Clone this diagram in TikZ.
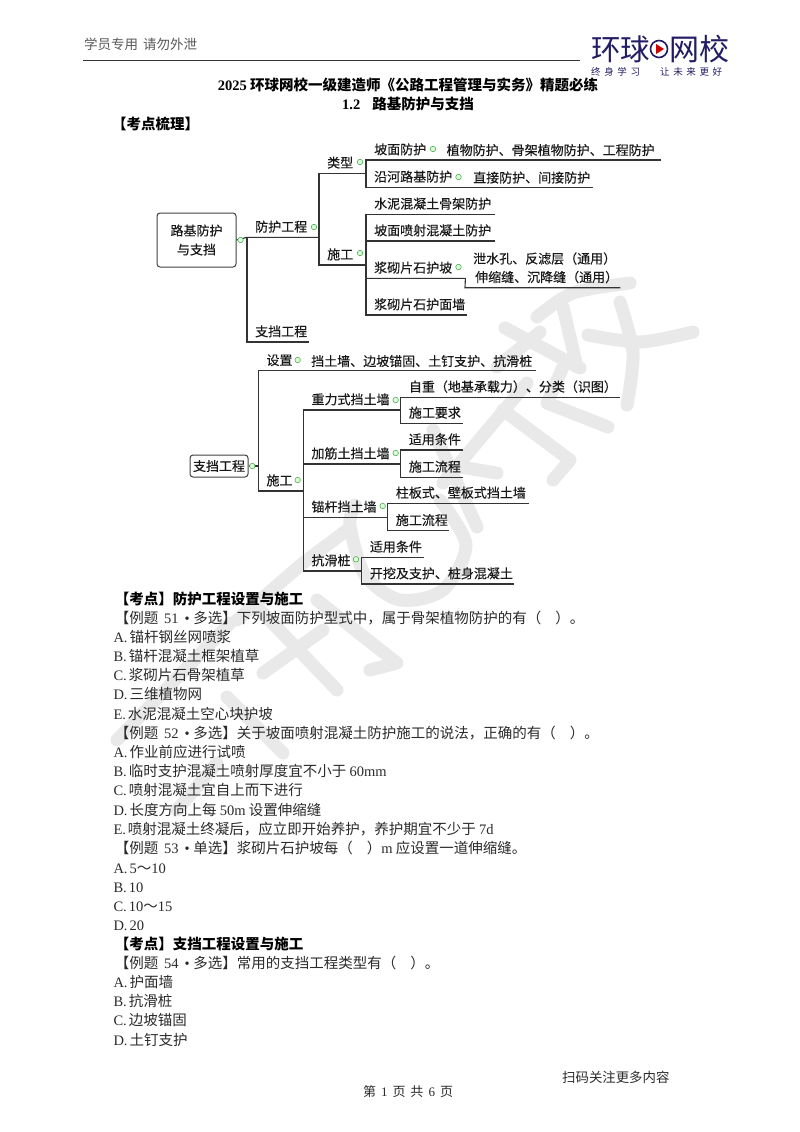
\documentclass[tikz,border=0pt]{standalone}
\usepackage{fontspec}
\usepackage{xcolor}
\usetikzlibrary{positioning,calc}
\setmainfont{Noto Sans CJK SC}
\newfontfamily\latfont{Liberation Serif}
\newfontfamily\mapfont[FakeBold=0.35]{Noto Sans CJK SC}
\newfontfamily\wordfont[LetterSpace=38]{Noto Sans CJK SC}
\newcommand{\lat}[1]{{\latfont #1}}
\definecolor{logoblue}{HTML}{211C63}
\definecolor{inktext}{HTML}{2A2A2A}
\definecolor{wmgrey}{HTML}{E9E9E9}

\begin{document}
\begin{tikzpicture}[
      x=1pt, y=-1pt,
      % Reusable styles
      topic/.style={
        anchor=south west,
        text width=#1,
        inner xsep=0pt,
        inner ysep=2.5pt,
        text height=10pt,
        text depth=3pt,
        align=left,
        text=black!90,
        font=\fontsize{13}{15}\mapfont,
        execute at begin node=\hspace*{8pt}
      },
      detail/.style={anchor=base west, inner sep=0pt, text=black!90, font=\fontsize{13}{15}\mapfont},
      rootbox/.style={draw=black!75, fill=white, line width=1pt, rounded corners=3pt, align=center, inner sep=0pt, text=black!90, font=\fontsize{13}{19}\mapfont},
      fold/.style={circle, draw=green!35!gray, fill=green!15!white, line width=.6pt, minimum size=5.5pt, inner sep=0pt},
      link/.style={draw=black!80, line width=1.1pt},
      bodyline/.style={anchor=base west, inner sep=0pt, text=inktext, font=\fontsize{14.5}{17}\selectfont},
      headline/.style={bodyline, text=black, font=\fontsize{14.5}{17}\selectfont\bfseries},
      wmark/.style={draw=wmgrey, line width=13pt, line cap=round, line join=round}
    ]
    \useasboundingbox (0,0) rectangle (800,1132);

    % Watermark under everything
    \draw[wmark] plot[smooth] coordinates {(630,283) (573,293) (537,317)};
    \draw[wmark] plot[smooth] coordinates {(620,302) (633,353) (627,405)};
    \draw[wmark] plot[smooth] coordinates {(588,335) (640,342) (693,332)};
    \draw[wmark] (563,307) -- (577,367);
    \draw[wmark] (505,328) -- (580,368);
    \draw[wmark] (540,332) -- (497,367);
    \draw[wmark] (563,367) -- (547,403) -- (608,427);
    \draw[wmark] (503,410) -- (570,460) -- (553,480);
    \draw[wmark] (433,430) -- (477,527);
    \draw[wmark] (460,467) -- (497,473);
    \draw[wmark] (527,383) -- (443,483);
    \draw[wmark] plot[smooth] coordinates {(440,500) (466,545) (443,590) (400,600) (365,575) (350,525) (355,505)};
    \draw[wmark] (347,530) -- (303,563) -- (237,620);
    \draw[wmark] (257,607) -- (337,690);
    \draw[wmark] (263,673) -- (323,630);
    \draw[wmark] (317,600) -- (397,663) -- (370,670);
    \draw[wmark] (227,697) -- (283,753);
    \draw[wmark] (117,740) -- (230,623);
    \draw[wmark] (217,763) -- (177,810);

    % Page head
    \node[anchor=base west, inner sep=0pt, text=black!65, font=\fontsize{13.5}{16}\selectfont] (headnote) at (84,50) {学员专用\hspace{5pt}请勿外泄};
    \coordinate (headend) at (580,60);
    \draw[draw=black!80, line width=.9pt] (83,60) coordinate (headstart) -- (headend);

    % Logo
    \node[anchor=base west, inner sep=0pt, text=logoblue, font=\fontsize{29.5}{30}\selectfont] (logoa) at (591,60) {环球};
    \node[circle, draw=logoblue, line width=1.6pt, minimum size=17pt, inner sep=0pt] (logoring) at (659,49) {};
    \fill[red!80!black] (656,44) -- (664,49) -- (656,54) -- cycle;
    \node[anchor=base west, inner sep=0pt, text=logoblue, font=\fontsize{30}{30}\selectfont] (logob) at (669,60) {网校};
    \node[anchor=base west, inner sep=0pt, text=logoblue, font=\fontsize{9.5}{11}\wordfont] (slogana) at (591,76) {终身学习};
    \node[anchor=base west, inner sep=0pt, text=logoblue, font=\fontsize{9.5}{11}\wordfont] (sloganb) at (660,76) {让未来更好};

    % Titles
    \node[anchor=base, inner sep=0pt, font=\fontsize{14.5}{17}\selectfont\bfseries] (maintitle) at (408,90) {\lat{\textbf{2025}} 环球网校一级建造师《公路工程管理与实务》精题必练};
    \node[anchor=base, inner sep=0pt, font=\fontsize{14.5}{17}\selectfont\bfseries] (subtitle) at (408,109) {\lat{\textbf{1.2}}\hspace{12pt}路基防护与支挡};
    \node[headline] (combing) at (112,129) {【考点梳理】};

    % First map
    \node[rootbox, minimum width=79pt, minimum height=54pt] (lujibox) at (196.5,240) {路基防护\\与支挡};
    \foreach \nm/\px/\py/\llen/\txt in {
        fanghu/247/237.3/72/防护工程,
        zhidang/247/342/62/支挡工程,
        leixing/319/173.3/47/类型,
        shigong/319/265/47/施工,
        pomian/366/160/295/坡面防护,
        yanhe/366/187.3/227/沿河路基防护,
        shuini/366/214.3/129/水泥混凝土骨架防护,
        penshe/366/241/129/坡面喷射混凝土防护,
        hupo/366/278.3/99/浆砌片石护坡,
        humian/366/315/101/浆砌片石护面墙
      } {
      \node[topic=\llen pt] (\nm) at (\px,\py) {\txt};
    }
    \node[detail] (zhiwu) at (446.5,155) {植物防护、骨架植物防护、工程防护};
    \node[detail] (zhijie) at (473,182.5) {直接防护、间接防护};
    \node[detail] (xieshui) at (473,263.5) {泄水孔、反滤层（通用）};
    \node[detail, anchor=south west, minimum width=155pt, text height=10pt, text depth=3pt, inner ysep=2.5pt, inner xsep=0pt] (shensuo) at (465,287.7) {\hspace*{8pt}伸缩缝、沉降缝（通用）};

    % Connectors of the first map
    \draw[link] (lujibox.east) -- (fanghu.south west) -- (fanghu.south east);
    \draw[link] (fanghu.south west) -- (zhidang.south west) -- (zhidang.south east);
    \draw[link] (leixing.south east) -- (leixing.south west) -- (shigong.south west) -- (shigong.south east);
    \draw[link] (pomian.south east) -- (pomian.south west) -- (yanhe.south west) -- (yanhe.south east);
    \draw[link] (shuini.south east) -- (shuini.south west) -- (humian.south west) -- (humian.south east);
    \draw[link] (penshe.south west) -- (penshe.south east);
    \draw[link] (hupo.south west) -- (hupo.south east) -- (shensuo.south west) -- (shensuo.south east);

    \foreach \nm/\px/\py in {rootfold/240.5/240, fanghufold/314/227, leixingfold/360/162, shigongfold/360/253, pomianfold/433/149, yanhefold/458.5/177, hupofold/458.5/267} {
      \node[fold] (\nm) at (\px,\py) {};
    }

    % Second map
    \node[rootbox, minimum width=58pt, minimum height=22pt] (zhidangbox) at (219,466) {支挡工程};
    \foreach \nm/\px/\py/\llen/\txt in {
        shezhi/258.3/370.7/277/设置,
        zdshigong/258.3/491/45/施工,
        zhongli/303.3/410/97.4/重力式挡土墙,
        jiajin/303.3/464/97.4/加筋土挡土墙,
        maogan/303.3/517.3/84.4/锚杆挡土墙,
        kanghua/303.3/571/58.4/抗滑桩,
        zizhong/400.7/397.3/219.3/自重（地基承载力）、分类（识图）,
        yaoqiu/400.7/423.3/61.6/施工要求,
        shiyong/400.7/450/61.6/适用条件,
        liucheng/400.7/477.3/61.6/施工流程,
        zhuban/387.7/503.3/140.6/柱板式、壁板式挡土墙,
        mgliucheng/387.7/530.7/61.3/施工流程,
        khshiyong/361.7/557.3/61.6/适用条件,
        kaiwa/361.7/584/151.6/开挖及支护、桩身混凝土
      } {
      \node[topic=\llen pt] (\nm) at (\px,\py) {\txt};
    }
    \node[detail] (dangtu) at (311,366) {挡土墙、边坡锚固、土钉支护、抗滑桩};

    % Connectors of the second map
    \draw[link] (zhidangbox.east) -- (zhidangbox.east -| shezhi.south west);
    \draw[link] (shezhi.south east) -- (shezhi.south west) -- (zdshigong.south west) -- (zdshigong.south east);
    \draw[link] (zhongli.south east) -- (zhongli.south west) -- (kanghua.south west) -- (kanghua.south east);
    \draw[link] (jiajin.south west) -- (jiajin.south east);
    \draw[link] (maogan.south west) -- (maogan.south east);
    \draw[link] (zizhong.south east) -- (zizhong.south west) -- (yaoqiu.south west) -- (yaoqiu.south east);
    \draw[link] (shiyong.south east) -- (shiyong.south west) -- (liucheng.south west) -- (liucheng.south east);
    \draw[link] (zhuban.south east) -- (zhuban.south west) -- (mgliucheng.south west) -- (mgliucheng.south east);
    \draw[link] (khshiyong.south east) -- (khshiyong.south west) -- (kaiwa.south west) -- (kaiwa.south east);

    \foreach \nm/\px/\py in {zhidangfold/252.3/466, shezhifold/297.7/360, zdshigongfold/297.7/480, zhonglifold/395.7/400, jiajinfold/395.7/453, maoganfold/382.7/506, kanghuafold/356/559.3} {
      \node[fold] (\nm) at (\px,\py) {};
    }

    % Question lines
    \node[headline] (pointa) at (114.7,604) {【考点】防护工程设置与施工};
    \foreach \idx/\px/\py/\txt in {
        1/114.7/623/{【例题 \lat{\,51\, • }多选】下列坡面防护型式中，属于骨架植物防护的有（\hspace{14pt}）。},
        2/113.3/642/{\lat{A.}\hspace{2pt}锚杆钢丝网喷浆},
        3/113.3/661/{\lat{B.}\hspace{2pt}锚杆混凝土框架植草},
        4/113.3/680/{\lat{C.}\hspace{2pt}浆砌片石骨架植草},
        5/113.3/699.5/{\lat{D.}\hspace{2pt}三维植物网},
        6/113.3/719/{\lat{E.}\hspace{2pt}水泥混凝土空心块护坡},
        7/114.7/738/{【例题 \lat{\,52\, • }多选】关于坡面喷射混凝土防护施工的说法，正确的有（\hspace{14pt}）。},
        8/113.3/757/{\lat{A.}\hspace{2pt}作业前应进行试喷},
        9/113.3/776/{\lat{B.}\hspace{2pt}临时支护混凝土喷射厚度宜不小于 \lat{60mm}},
        10/113.3/795.5/{\lat{C.}\hspace{2pt}喷射混凝土宜自上而下进行},
        11/113.3/815/{\lat{D.}\hspace{2pt}长度方向上每 \lat{50m} 设置伸缩缝},
        12/113.3/834/{\lat{E.}\hspace{2pt}喷射混凝土终凝后，应立即开始养护，养护期宜不少于 \lat{7d}},
        13/114.7/853/{【例题 \lat{\,53\, • }单选】浆砌片石护坡每（\hspace{14pt}）\lat{m} 应设置一道伸缩缝。},
        14/113.3/873/{\lat{A.}\hspace{2pt}\lat{5}～\lat{10}},
        15/113.3/892/{\lat{B.}\hspace{2pt}\lat{10}},
        16/113.3/911/{\lat{C.}\hspace{2pt}\lat{10}～\lat{15}},
        17/113.3/930/{\lat{D.}\hspace{2pt}\lat{20}},
        18/114.7/968/{【例题 \lat{\,54\, • }多选】常用的支挡工程类型有（\hspace{14pt}）。},
        19/113.3/987/{\lat{A.}\hspace{2pt}护面墙},
        20/113.3/1006/{\lat{B.}\hspace{2pt}抗滑桩},
        21/113.3/1025/{\lat{C.}\hspace{2pt}边坡锚固},
        22/113.3/1045/{\lat{D.}\hspace{2pt}土钉支护}
      } {
      \node[bodyline] (line\idx) at (\px,\py) {\txt};
    }
    \node[headline] (pointb) at (114.7,949) {【考点】支挡工程设置与施工};

    % Page foot
    \node[anchor=base west, inner sep=0pt, text=inktext, font=\fontsize{13.4}{16}\selectfont] (scannote) at (562,1082) {扫码关注更多内容};
    \node[anchor=base, inner sep=0pt, text=inktext, font=\fontsize{13}{16}\selectfont] (pagenote) at (408,1096) {第\hspace{5pt}\lat{1}\hspace{5pt}页\hspace{5pt}共\hspace{5pt}\lat{6}\hspace{5pt}页};
  \end{tikzpicture}
\end{document}
